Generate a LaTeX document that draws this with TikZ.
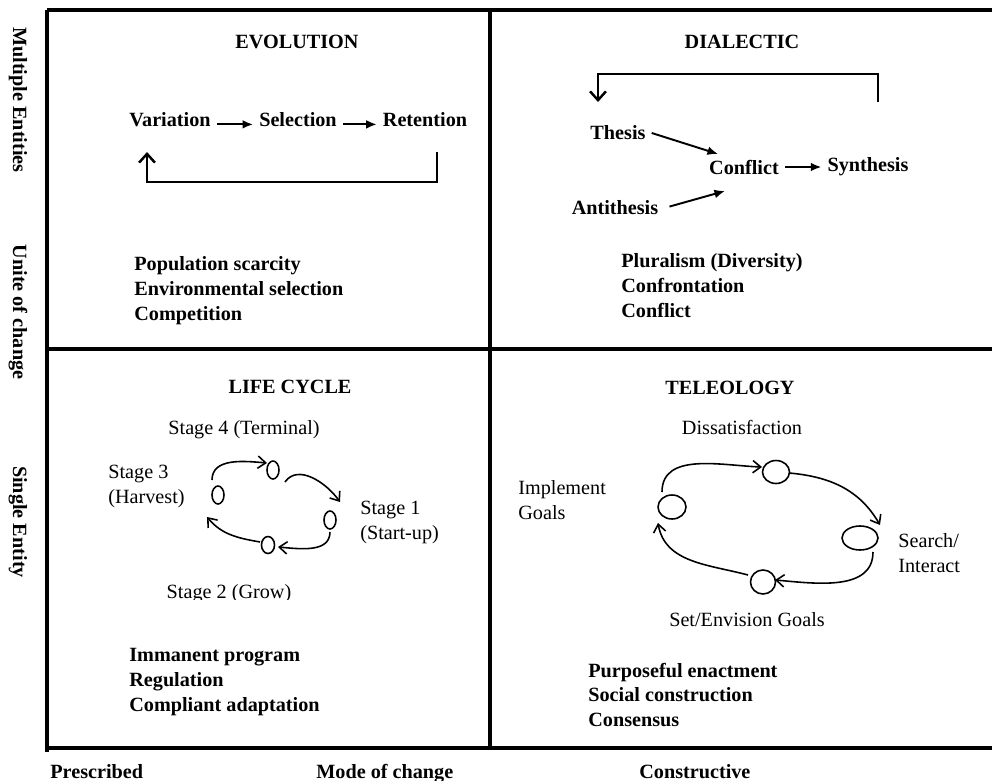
\documentclass[tikz,border=0pt]{standalone}
\usepackage{fontspec}
\setmainfont{Liberation Serif}
\usetikzlibrary{arrows.meta}
\usetikzlibrary{positioning}
\usetikzlibrary{shapes.geometric}

\newcommand{\figfont}{\fontsize{11.5}{14.2}\selectfont}
\tikzset{
    frameline/.style={line width=1.9pt},
    fwd/.style={-{Latex[length=6pt,width=5pt]},line width=1.1pt},
    fback/.style={-{Straight Barb[length=5pt,width=9pt]},line width=1.4pt},
    cyc/.style={-{Straight Barb[length=4.5pt,width=7pt]},line width=0.9pt},
    stagedot/.style={draw,ellipse,line width=0.9pt,inner sep=0pt},
    ttl/.style={font=\figfont\bfseries},
    lst/.style={font=\figfont\bfseries,align=left,anchor=west,inner sep=0pt},
    two/.style={align=left,anchor=west,inner sep=0pt},
    axislbl/.style={font=\figfont\bfseries,rotate=-90},
}

\begin{document}
\begin{tikzpicture}[x=0.02cm,y=0.02cm,font=\figfont]
    \useasboundingbox (0,0) rectangle (992,-781);
    \draw[frameline] (47,-10) -- (992,-10);
    \draw[frameline] (47,-349) -- (992,-349);
    \draw[frameline] (47,-748) -- (992,-748);
    \draw[frameline] (47,-10) -- (47,-752);
    \draw[frameline] (490,-10) -- (490,-748);
    %
    \node[axislbl] (multi) at (18,-100) {Multiple Entities};
    \node[axislbl] (unite) at (18,-312) {Unite of change};
    \node[axislbl] (single) at (18,-522) {Single Entity};
    \node[ttl,anchor=base west,inner sep=0pt] (prescr) at (50,-778) {Prescribed};
    \node[ttl,anchor=base west,inner sep=0pt] (mode) at (316,-778) {Mode of change};
    \node[ttl,anchor=base west,inner sep=0pt] (constr) at (639,-778) {Constructive};
    %
    \node[ttl] (evotitle) at (297,-42) {EVOLUTION};
    \node[ttl] (var) at (170,-120) {Variation};
    \node[ttl] (sel) at (298,-120) {Selection};
    \node[ttl] (ret) at (425,-120) {Retention};
    \draw[fwd] ([yshift=-2.5pt]var.east) -- ([yshift=-2.5pt]sel.west);
    \draw[fwd] ([yshift=-2.5pt]sel.east) -- ([yshift=-2.5pt]ret.west);
    \draw[fback] ([shift={(12,-32)}]ret.center) -- ++(0,-30) -| ([shift={(-23,-32)}]var.center);
    \node[lst] (evolist) at (134,-291) {Population scarcity\\Environmental selection\\Competition};
    %
    \node[ttl] (diatitle) at (742,-42) {DIALECTIC};
    \node[ttl] (thesis) at (618,-133) {Thesis};
    \node[ttl] (conflict) at (744,-167) {Conflict};
    \node[ttl] (synth) at (868,-167) {Synthesis};
    \node[ttl] (anti) at (615,-208) {Antithesis};
    \draw[fwd] (thesis.east) -- ([shift={(-26,13)}]conflict.center);
    \draw[fwd,shorten <=3pt] (anti.east) -- ([shift={(-19,-24)}]conflict.center);
    \draw[fwd] (conflict.east) -- (synth.west);
    \draw[fback] ([shift={(10,65)}]synth.center) -- ++(0,28) -| ([shift={(-20,31)}]thesis.center);
    \node[lst] (dialist) at (621,-286) {Pluralism (Diversity)\\Confrontation\\Conflict};
    %
    \node[ttl] (lifetitle) at (290,-387) {LIFE CYCLE};
    \node[stagedot,minimum width=0.24cm,minimum height=0.36cm] (lcfour) at (273,-470) {};
    \node[stagedot,minimum width=0.24cm,minimum height=0.36cm] (lcthree) at (218,-495) {};
    \node[stagedot,minimum width=0.24cm,minimum height=0.36cm] (lcone) at (330,-520) {};
    \node[stagedot,minimum width=0.26cm,minimum height=0.34cm] (lctwo) at (268,-545) {};
    \draw[cyc] ([shift={(-6,15)}]lcthree.center) to[out=90,in=175] ([shift={(-6,7)}]lcfour.center);
    \draw[cyc] ([shift={(12,-12)}]lcfour.center) to[out=55,in=125] ([shift={(10,18)}]lcone.center);
    \draw[cyc] ([shift={(0,-12)}]lcone.center) to[out=-90,in=-5] ([shift={(10,-2)}]lctwo.center);
    \draw[cyc] ([shift={(-8,3)}]lctwo.center) to[out=170,in=-50] ([shift={(-11,-22)}]lcthree.center);
    \node (stagefour) at (244,-430) {Stage 4 (Terminal)};
    \node[two] (stagethree) at (108,-486) {Stage 3\\(Harvest)};
    \node[two] (stageone) at (360,-522) {Stage 1\\(Start-up)};
    \begin{scope}
        \clip (150,-570) rectangle (320,-599.5);
        \node[anchor=base] (stagetwo) at (229,-598) {Stage 2 (Grow)};
    \end{scope}
    \node[lst] (lifelist) at (129,-682) {Immanent program\\Regulation\\Compliant adaptation};
    %
    \node[ttl] (teltitle) at (730,-388) {TELEOLOGY};
    \node[stagedot,minimum width=0.54cm,minimum height=0.46cm] (tctop) at (776,-472) {};
    \node[stagedot,minimum width=0.56cm,minimum height=0.48cm] (tcleft) at (672,-507) {};
    \node[stagedot,minimum width=0.72cm,minimum height=0.48cm] (tcright) at (860,-538) {};
    \node[stagedot,minimum width=0.50cm,minimum height=0.48cm] (tcbot) at (763,-582) {};
    \draw[cyc] ([shift={(-10,15)}]tcleft.center) to[out=90,in=178] ([shift={(-14,5)}]tctop.center);
    \draw[cyc] ([shift={(13,-1)}]tctop.center) to[out=-5,in=120] ([shift={(20,13)}]tcright.center);
    \draw[cyc] ([shift={(13,-14)}]tcright.center) to[out=-90,in=-5] ([shift={(12,2)}]tcbot.center);
    \draw[cyc] ([shift={(-15,7)}]tcbot.center) to[out=165,in=-80] ([shift={(-14,-16)}]tcleft.center);
    \node (dissat) at (742,-427) {Dissatisfaction};
    \node[two] (implement) at (518,-500) {Implement\\Goals};
    \node[two] (search) at (898,-553) {Search/\\Interact};
    \node (setgoals) at (747,-620) {Set/Envision Goals};
    \node[lst] (telelist) at (588,-695) {Purposeful enactment\\Social construction\\Consensus};
\end{tikzpicture}
\end{document}
